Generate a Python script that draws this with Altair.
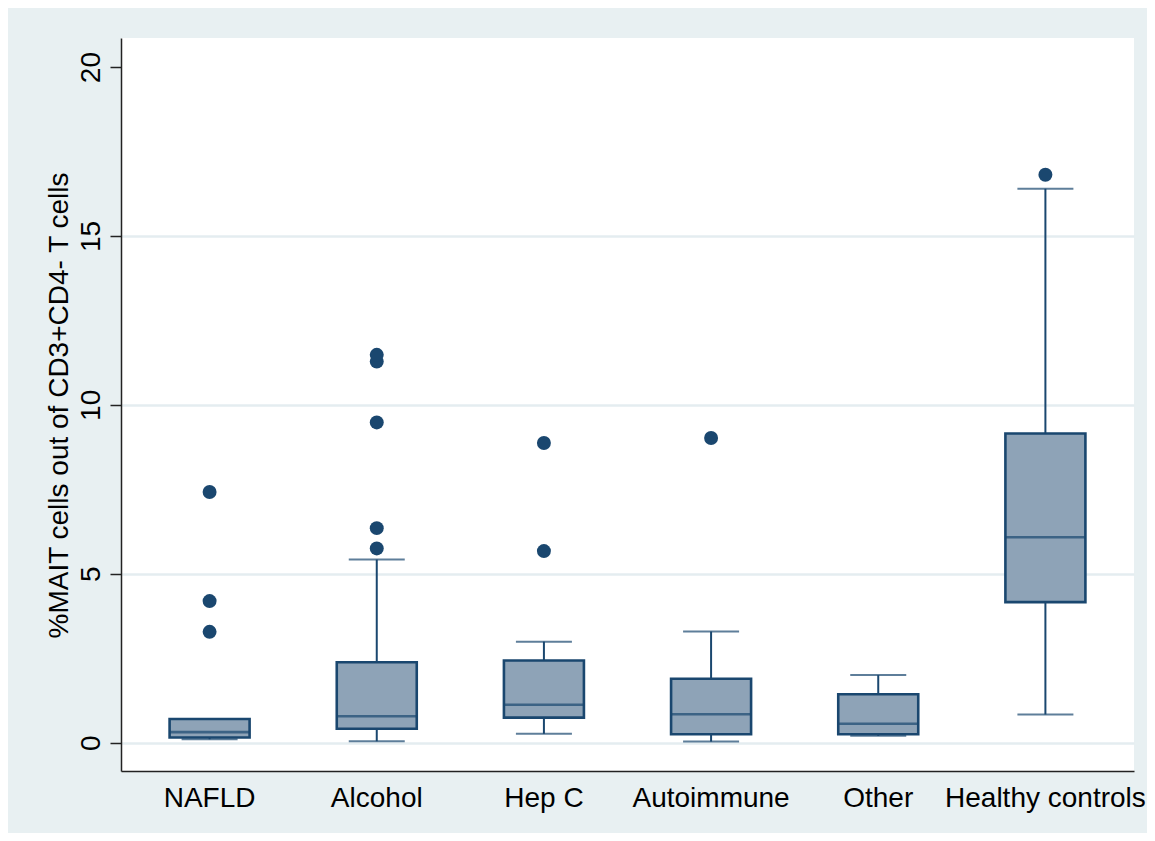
import altair as alt
import pandas as pd

# ---- data ----
groups = ["NAFLD", "Alcohol", "Hep C", "Autoimmune", "Other", "Healthy controls"]
lower_whisker = [0.10, 0.04, 0.26, 0.03, 0.20, 0.83]
q1 = [0.15, 0.41, 0.74, 0.25, 0.25, 4.16]
median = [0.31, 0.78, 1.12, 0.84, 0.56, 6.08]
q3 = [0.70, 2.38, 2.43, 1.89, 1.43, 9.15]
upper_whisker = [0.70, 5.42, 2.99, 3.29, 2.00, 16.40]

outlier_group = ["NAFLD", "NAFLD", "NAFLD",
                 "Alcohol", "Alcohol", "Alcohol", "Alcohol", "Alcohol",
                 "Hep C", "Hep C",
                 "Autoimmune",
                 "Healthy controls"]
outlier_value = [7.42, 4.19, 3.28,
                 5.75, 6.35, 9.48, 11.28, 11.48,
                 8.87, 5.67,
                 9.02,
                 16.81]

y_ticks = [0, 5, 10, 15, 20]
y_title = "%MAIT cells out of CD3+CD4- T cells"

stats = pd.DataFrame({
    "group": groups,
    "lo": lower_whisker,
    "q1": q1,
    "med": median,
    "q3": q3,
    "hi": upper_whisker,
})
outliers = pd.DataFrame({"group": outlier_group, "value": outlier_value})

NAVY = "#1A476F"
FILL = "#8EA3B7"
BG = "#E8F0F2"
FONT = "Liberation Sans"

x_scale = alt.Scale(type="band", paddingInner=0, paddingOuter=0.03)
y_scale = alt.Scale(domain=[-0.84, 20.86], nice=False, zero=False)

x_axis = alt.Axis(
    title=None, labelAngle=0, ticks=False, tickSize=0, labelPadding=35,
    labelBaseline="alphabetic", labelFontSize=28, labelFont=FONT, labelLimit=0,
    labelColor="black", domainColor="#222222", domainWidth=1.5, grid=False,
)
y_axis = alt.Axis(
    values=y_ticks, title=y_title,
    labelAngle=270, labelAlign="center", labelBaseline="alphabetic",
    labelPadding=11, tickSize=11, tickWidth=1.5, tickColor="#222222",
    labelFontSize=28, labelFont=FONT, labelColor="black",
    domainColor="#222222", domainWidth=1.5,
    grid=True, gridColor="#E4EDF0", gridWidth=2.5,
    gridOpacity={"condition": {"test": "datum.value == 20", "value": 0}, "value": 1},
    titleAngle=270, titleX=-54, titleY=367, titleAlign="center",
    titleBaseline="alphabetic", titleFontSize=28, titleFont=FONT,
    titleFontWeight="normal", titleColor="black", titleLimit=0,
)

X = alt.X("group:N", sort=groups, scale=x_scale, axis=x_axis)


def Y(field):
    return alt.Y(field, type="quantitative", scale=y_scale, axis=y_axis, title=y_title)


base = alt.Chart(stats)

whisk = base.mark_rule(color=NAVY, strokeWidth=2).encode(
    x=X, y=Y("lo"), y2="hi:Q",
)
cap_lo = base.mark_tick(color=NAVY, size=56, thickness=2).encode(x=X, y=Y("lo"))
cap_hi = base.mark_tick(color=NAVY, size=56, thickness=2).encode(x=X, y=Y("hi"))
box = base.mark_bar(fill=FILL, stroke=NAVY, strokeWidth=2.6, size=80).encode(
    x=X, y=Y("q1"), y2="q3:Q"
)
med = base.mark_tick(color=NAVY, size=80, thickness=2.6).encode(x=X, y=Y("med"))
pts = alt.Chart(outliers).mark_circle(color=NAVY, size=195, opacity=1).encode(
    x=X, y=Y("value")
)

chart = (
    alt.layer(whisk, cap_lo, cap_hi, box, med, pts)
    .properties(
        width=1013,
        height=733,
        autosize=alt.AutoSizeParams(type="none"),
        padding={"left": 113, "top": 30, "right": 13, "bottom": 62},
        background=BG,
    )
    .configure_view(fill="white", stroke=None)
)

chart.save("out.html", embed_options={"renderer": "svg", "actions": False})
